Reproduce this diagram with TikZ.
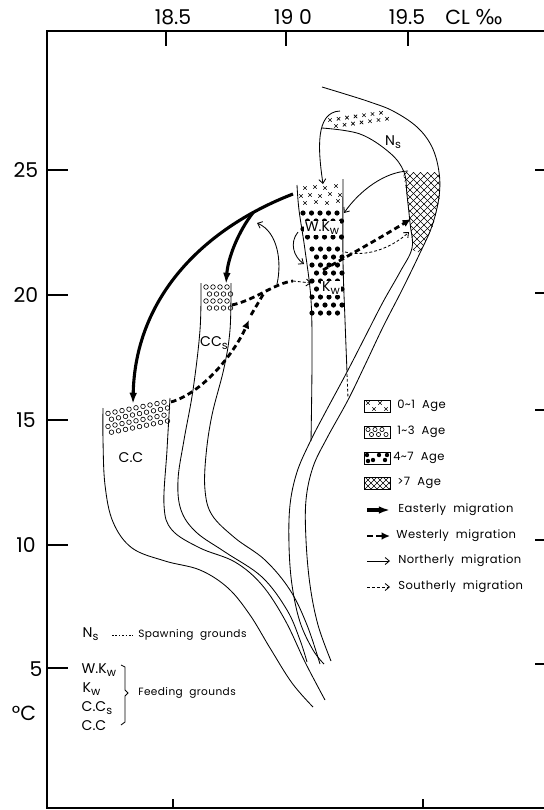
\documentclass[tikz,border=0pt]{standalone}
\usepackage{fontspec}
\setmainfont{Poppins}
\newfontfamily\simbolo{DejaVu Sans}
\newfontfamily\espaciada[LetterSpace=4]{Poppins}
\usetikzlibrary{arrows.meta}
\newcommand{\bajo}[1]{\raisebox{-0.4ex}{\fontsize{8}{9}\selectfont #1}}

\begin{document}
\begin{tikzpicture}[x=0.025cm, y=-0.025cm,
    linea/.style={line width=0.6pt},
    marco/.style={line width=1pt},
    este/.style={line width=2.2pt, -{Latex[length=8pt,width=5.5pt]}},
    oeste/.style={line width=2pt, dash pattern=on 4pt off 2.5pt},
    oesteflecha/.style={oeste, -{Latex[length=6pt,width=5.5pt]}},
    norte/.style={line width=0.6pt, -{Straight Barb[length=3pt,width=5pt]}},
    sur/.style={line width=0.6pt, dash pattern=on 2pt off 1.5pt, -{Straight Barb[length=3pt,width=5pt]}},
    rotulo/.style={font=\fontsize{10}{12}\selectfont, inner sep=1pt},
    leyenda/.style={font=\espaciada\fontsize{8.2}{10}\selectfont, anchor=west, inner sep=0pt},
    zona/.style={font=\espaciada\fontsize{7.5}{9}\selectfont, anchor=west, inner sep=0pt},
    eje/.style={font=\fontsize{14.5}{16}\selectfont},
    cruz/.pic={\draw[line width=0.45pt] (-1.7,-1.7) -- (1.7,1.7) (-1.7,1.7) -- (1.7,-1.7);}]
  \useasboundingbox (0,0) rectangle (544,810);
  % marco y escalas
  \draw[marco] (544,31) -- (47,31) -- (47,808) -- (544,808);
  \foreach \px in {166,286,408} \draw[marco] (\px,31) -- (\px,46);
  \foreach \px in {173,423} \draw[marco] (\px,808) -- (\px,799);
  \foreach \py in {170,295,420,545,668} \draw[marco] (47,\py) -- (68,\py);
  \foreach \py in {170,293,410,540,664} \draw[marco] (535,\py) -- (544,\py);
  \node[eje] (s185) at (173,17) {18.5};
  \node[eje] (s190) at (293,17) {19 0};
  \node[eje] (s195) at (407,17) {19.5};
  \node[eje] (cl) at (474,17) {CL {\simbolo ‰}};
  \foreach \v/\py in {25/170, 20/295, 15/420, 10/545}
    \node[eje] (t\v) at (26,\py) {\v};
  \node[eje] (t5) at (36,669) {5};
  \node[eje] (grados) at (24,713) {°C};

  % franjas de cada grupo
  \draw[linea] plot[smooth, tension=0.6] coordinates {(103,408) (103,440) (105,485) (113,522) (132,548)
    (165,561) (200,570) (228,588) (250,615) (270,648) (292,683) (313,707)};
  \draw[linea] plot[smooth, tension=0.6] coordinates {(170,398) (167,450) (164,505) (172,530) (200,548)
    (235,562) (262,585) (285,620) (305,662) (325,700)};
  \draw[linea] plot[smooth, tension=0.6] coordinates {(201,283) (200,330) (193,390) (184,440) (178,480)
    (181,510) (196,532) (225,552) (262,577) (287,610) (300,640) (307,662)};
  \draw[linea] plot[smooth, tension=0.6] coordinates {(231,283) (230,330) (224,368) (212,415) (206,455)
    (205,490) (212,515) (235,538) (265,560) (290,590) (307,625) (320,664)};
  \draw[linea] plot[smooth, tension=0.6] coordinates {(297,185) (299,210) (305,250) (311,300) (312,360) (311,441)};
  \draw[linea] plot[smooth, tension=0.6] coordinates {(343,179) (343,260) (345,320) (347,372)};
  \draw[linea] plot[smooth, tension=0.6] coordinates {(322,128) (360,134) (390,153) (404,172) (407,195)
    (410,223) (412,248) (400,272) (383,302) (365,337) (347,372) (325,413) (310,442) (297,472)
    (290,505) (289,545) (292,585) (300,622) (313,650) (324,664)};
  \draw[linea] plot[smooth, tension=0.6] coordinates {(322,87) (345,94) (370,102) (393,111) (417,127)
    (432,147) (439,172) (439,197) (432,226) (420,253) (402,290) (383,327) (365,365) (348,400)
    (327,438) (313,467) (306,500) (306,540) (310,585) (318,625) (331,661)};
  \draw[linea, dash pattern=on 2pt off 1.5pt] (347,374) -- (348,398);

  % edades: 0~1
  \foreach \i in {0,...,6} \pic at ({330+8.5*\i},{120-1.2*\i}) {cruz};
  \foreach \i in {0,...,6} \pic at ({336+8.5*\i},{126-1.2*\i}) {cruz};
  \foreach \px/\py in {305/188, 315/187, 325/188, 336/186, 301/196, 310/195, 320/196,
    330/194, 340/195, 305/203, 316/202, 327/203, 338/201}
    \pic at (\px,\py) {cruz};
  % edades: 1~3
  \foreach \j in {0,...,3} \foreach \i in {0,...,8} {
    \pgfmathsetmacro\cx{108+7*\i+3.5*mod(\j,2)}
    \pgfmathsetmacro\cy{414-0.2*(\cx-105)+6.5*\j}
    \draw[line width=0.45pt] (\cx,\cy) circle[radius=2.3];
  }
  \foreach \j in {0,...,3} \foreach \i in {0,...,3}
    \draw[line width=0.45pt] ({206+7*\i+3.5*mod(\j,2)},{287+7*\j}) circle[radius=2.3];
  % edades: 4~7
  \foreach \py/\off in {213/0, 221/4.5, 229/0, 237/4.5} \foreach \i in {0,...,4}
    \fill ({303+\off+8.5*\i},\py) circle[radius=2.6];
  \foreach \py/\off in {249/0, 257/4.5, 265/0, 273/4.5, 281/0, 289/4.5, 297/0, 305/4.5, 313/0}
    \foreach \i in {0,...,3}
      \fill ({312+\off+8.5*\i},\py) circle[radius=2.6];
  % edades: >7
  \begin{scope}
    \clip (403,172) -- (439,172) -- (440,197) -- (433,226) -- (420,253) -- (413,250)
      -- (410,223) -- (407,195) -- cycle;
    \foreach \c in {150,157,...,280} \draw[line width=0.45pt] ({\c+160},160) -- ({\c+270},270);
    \foreach \d in {565,572,...,690} \draw[line width=0.45pt] ({\d-160},160) -- ({\d-270},270);
  \end{scope}

  % rotulos de zonas
  \node[rotulo] (ns) at (393,142) {N\bajo{s}};
  \node[rotulo, fill=white, inner sep=0.5pt] (wkw) at (322,228) {W.K\bajo{w}};
  \node[rotulo, fill=white, inner sep=0.5pt] (kw) at (331,288) {K\bajo{w}};
  \node[rotulo] (ccs) at (214,343) {CC\bajo{s}};
  \node[rotulo] (cc) at (131,458) {C.C};

  % puntos de las migraciones
  \coordinate (wkwSup) at (293,194);
  \coordinate (ccSup) at (133,404);
  \coordinate (ccsSup) at (226,284);
  \coordinate (ccDer) at (171,402);
  \coordinate (ccsDer) at (232,305);
  \coordinate (kwIzq) at (311,283);
  \coordinate (kwCentro) at (323,270);
  \coordinate (cruzIzq) at (411,219);
  \coordinate (kwDer) at (345,252);
  \coordinate (cruzBajo) at (409,232);
  \coordinate (nsCab) at (340,111);
  \coordinate (wkwCab) at (323,184);
  \coordinate (cruzSup) at (408,171);
  \coordinate (wkwDer) at (344,213);
  \coordinate (wkwIzq) at (298,232);
  \coordinate (kwSup) at (304,264);
  \coordinate (union) at (277,284);
  \coordinate (vuelta) at (257,223);
  % hacia el este
  \draw[este] (wkwSup) .. controls (200,230) and (135,300) .. (ccSup) coordinate[pos=0.15] (ramal);
  \draw[este] (ramal) .. controls (238,232) and (228,258) .. (ccsSup);
  % hacia el oeste
  \draw[oesteflecha] (ccDer) .. controls (205,392) and (236,350) .. (249,320);
  \draw[oeste] (251,315) -- (264,293);
  \draw[oeste] (ccsDer) .. controls (255,300) and (275,283) .. (293,281);
  \draw[sur] (293,281) -- (kwIzq);
  \draw[oesteflecha] (kwCentro) .. controls (355,252) and (385,235) .. (cruzIzq);
  % hacia el norte y el sur
  \draw[sur] (kwDer) .. controls (370,258) and (395,245) .. (cruzBajo);
  \draw[norte] (nsCab) .. controls (315,112) and (318,150) .. (wkwCab);
  \draw[norte] (cruzSup) .. controls (385,172) and (360,190) .. (wkwDer);
  \draw[norte] (wkwIzq) .. controls (289,243) and (294,257) .. (kwSup);
  \draw[norte] (union) .. controls (282,262) and (278,232) .. (vuelta);

  % leyenda de edades
  \draw[linea] (364,400) rectangle (390,412);
  \foreach \px/\py in {368/403, 374/409, 380/403, 386/409} \pic at (\px,\py) {cruz};
  \node[leyenda] (l01) at (397,406) {0\textasciitilde1\ \ Age};
  \draw[linea] (364,426) rectangle (390,438);
  \foreach \px/\py in {368/429.5, 375/429.5, 382/429.5, 371.5/434.5, 378.5/434.5, 386/434.5}
    \draw[line width=0.45pt] (\px,\py) circle[radius=2.1];
  \node[leyenda] (l13) at (397,432) {1\textasciitilde3\ \ Age};
  \draw[linea] (364,452) rectangle (390,464);
  \foreach \px/\py in {367/455, 373/460, 379/455, 385/460, 387/455, 368/461}
    \fill (\px,\py) circle[radius=2.2];
  \node[leyenda] (l47) at (393,458) {4\textasciitilde7\ \ Age};
  \draw[linea] (364,477) rectangle (390,489);
  \begin{scope}
    \clip (364,477) rectangle (390,489);
    \foreach \c in {-130,-124,...,-70} \draw[line width=0.45pt] ({\c+470},470) -- ({\c+500},500);
    \foreach \d in {830,836,...,900} \draw[line width=0.45pt] ({\d-470},470) -- ({\d-500},500);
  \end{scope}
  \node[leyenda] (l7) at (397,483) {>7\ \ Age};
  % leyenda de migraciones
  \draw[este] (367,510) -- (390,510);
  \node[leyenda] (leste) at (398,510) {Easterly\ \ migration};
  \draw[oesteflecha] (367,536) -- (390,536);
  \node[leyenda] (loeste) at (396,536) {Westerly\ \ migration};
  \draw[norte] (367,561) -- (390,561);
  \node[leyenda] (lnorte) at (398,561) {Northerly\ \ migration};
  \draw[sur] (367,587) -- (390,587);
  \node[leyenda] (lsur) at (398,587) {Southerly\ \ migration};

  % leyenda de zonas
  \node[rotulo, anchor=west] (lns) at (81,634) {N\bajo{s}};
  \draw[linea, dash pattern=on 1.2pt off 1.2pt] (112,635) -- (133,635);
  \node[zona] (lpuesta) at (138,635) {Spawning\ \ grounds};
  \node[rotulo, anchor=west] (lwkw) at (80,670) {W.K\bajo{w}};
  \node[rotulo, anchor=west] (lkw) at (81,689) {K\bajo{w}};
  \node[rotulo, anchor=west] (lccs) at (80,708) {C.C\bajo{s}};
  \node[rotulo, anchor=west] (lcc) at (80,726) {C.C};
  \draw[linea] (121,665) -- (125,667) -- (125,690) -- (128,693) -- (125,696) -- (125,722) -- (121,725);
  \node[zona] (lalimento) at (138,693) {Feeding\ \ grounds};
\end{tikzpicture}
\end{document}
